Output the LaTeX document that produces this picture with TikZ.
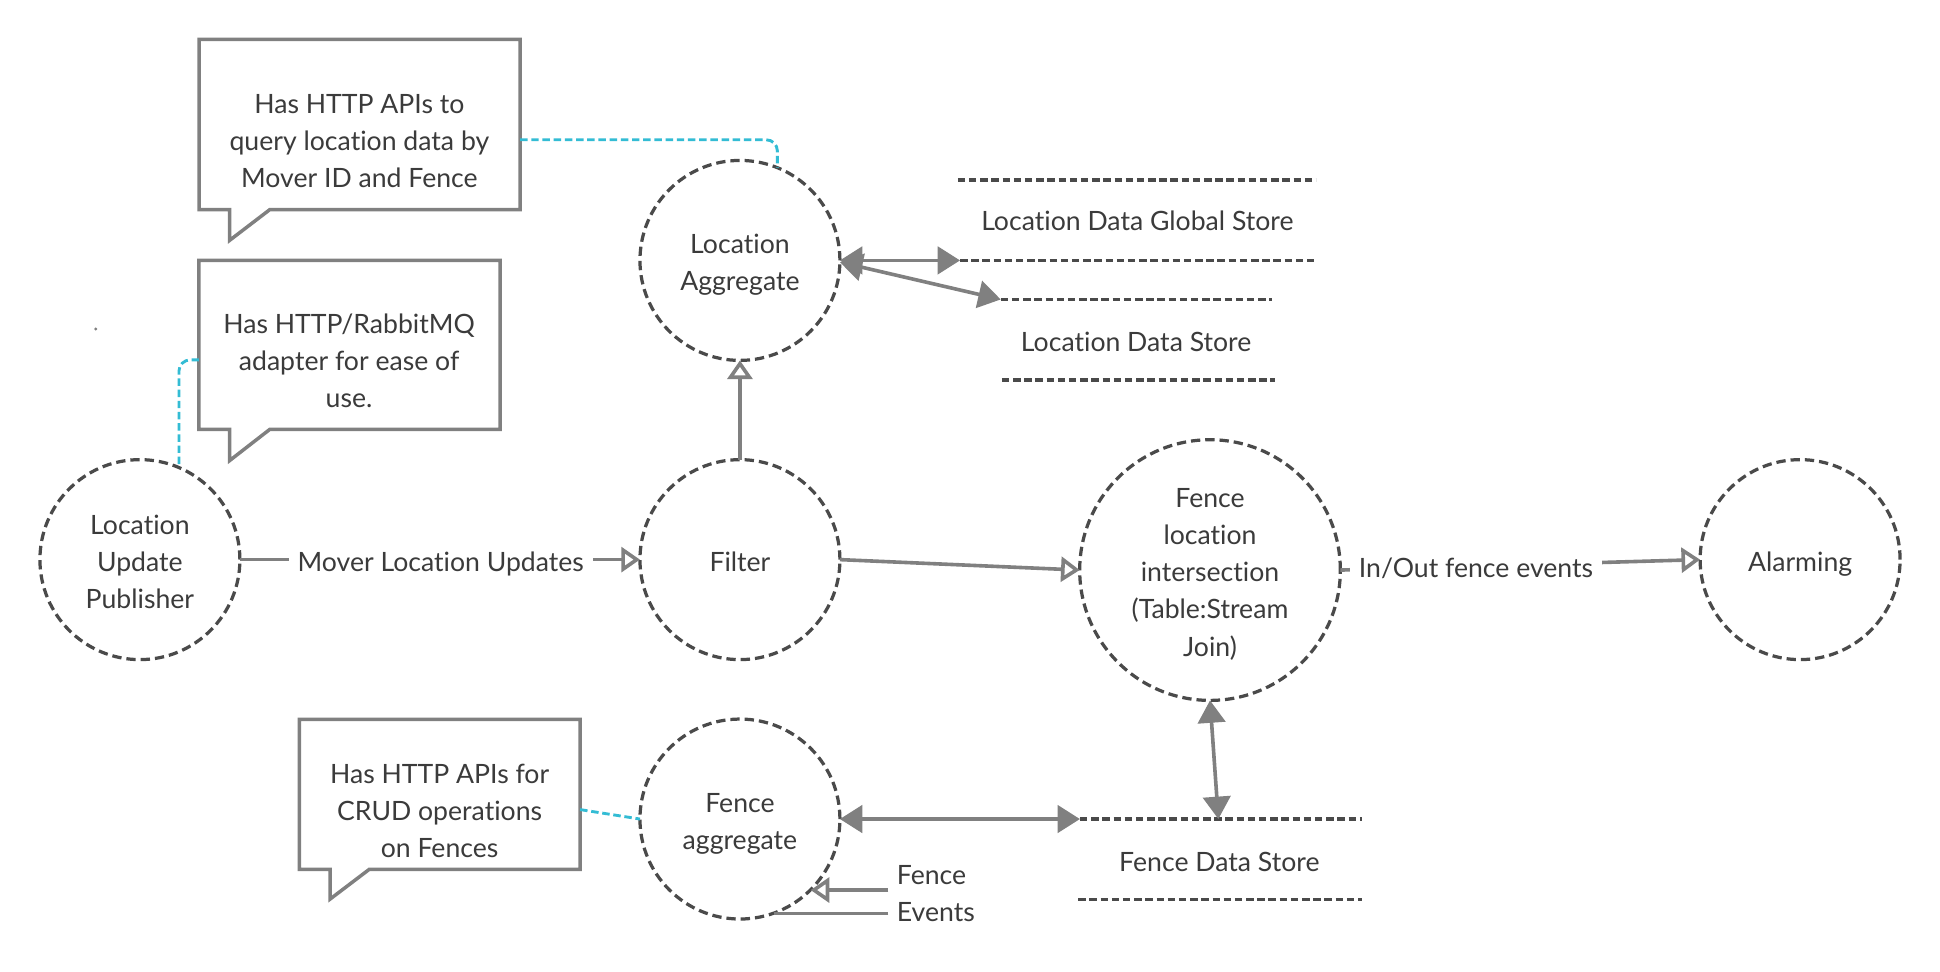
\documentclass[tikz,border=0pt]{standalone}
\usepackage{fontspec}
\setmainfont{Lato}[Ligatures=NoCommon]
\usetikzlibrary{arrows.meta,calc}
\definecolor{circdark}{HTML}{4A4A4A}
\definecolor{conngray}{HTML}{808080}
\definecolor{txt}{HTML}{3B3B3B}
\definecolor{cyanc}{HTML}{33BCD4}
\newcommand\dfs{\fontsize{21.4pt}{29.8pt}\selectfont}
\newcommand\sa{\rule{0pt}{24pt}}
\newcommand\sz{\rule[-5pt]{0pt}{5pt}}
\tikzset{
  proc/.style={circle, draw=circdark, line width=2.6pt, dash pattern=on 7.5pt off 4pt,
    minimum size=160.8pt, inner sep=0pt, outer sep=0pt, align=center, text=txt, font=\dfs},
  lbl/.style={text=txt, font=\dfs, align=center, inner sep=0pt},
  boxnode/.style={rectangle, draw=none, inner sep=0pt, outer sep=0pt},
  callout/.style={draw=conngray, line width=2.8pt, line join=miter},
  storeline/.style={draw=circdark, line width=2.8pt, dash pattern=on 6pt off 3pt},
  conn/.style={draw=conngray, line width=2.9pt},
  openarr/.style={conn, -{Triangle[open, length=15pt, width=20pt]}},
  biarr/.style={conn, {Triangle[length=18pt, width=22pt]}-{Triangle[length=18pt, width=22pt]}},
  cyanconn/.style={draw=cyanc, line width=2.3pt, dash pattern=on 6pt off 3pt, rounded corners=9pt},
  edgelbl/.style={fill=white, text=txt, font=\dfs, inner xsep=7pt, inner ysep=0pt},
}
\begin{document}
\begin{tikzpicture}[x=1pt,y=-1pt]
\useasboundingbox (0,0) rectangle (1560,781.6);
\fill[white] (0,0) rectangle (1560,781.6);

% processes
\node[proc] (LUP) at (112.5,450) {\sa Location\\Update\\Publisher\sz};
\node[proc] (LA) at (595,209.4) {\sa Location\\Aggregate\sz};
\node[proc] (Filter) at (595,450) {\sa Filter\sz};
\node[proc] (FA) at (595,658.6) {\sa Fence\\aggregate\sz};
\node[proc, minimum size=209.6pt] (FLI) at (973,458.4) {\sa Fence\\location\\intersection\\(Table:Stream\\Join)\sz};
\node[proc] (Alarm) at (1447.5,450) {\sa Alarming\sz};

% stores
\coordinate (gsTL) at (770.2,144.6); \coordinate (gsTR) at (1058.2,144.6);
\coordinate (gsBL) at (772,209.4);   \coordinate (gsBR) at (1059.6,209.4);
\coordinate (ldTL) at (804.7,240.8); \coordinate (ldTR) at (1022.8,240.8);
\coordinate (ldBL) at (805.6,305.4); \coordinate (ldBR) at (1025.5,305.4);
\coordinate (fsTL) at (868.4,658.6); \coordinate (fsTR) at (1095,658.6);
\coordinate (fsBL) at (867,723.2);   \coordinate (fsBR) at (1095,723.2);
\coordinate (fsJ) at (979.7,658.6);
\draw[storeline] (gsTL) -- (gsTR);
\draw[storeline] (gsBL) -- (gsBR);
\draw[storeline] (ldTL) -- (ldTR);
\draw[storeline] (ldBL) -- (ldBR);
\draw[storeline] (fsTL) -- (fsTR);
\draw[storeline] (fsBL) -- (fsBR);
\node[lbl] (gsT) at (914.6,176.2) {\sa Location Data Global Store\sz};
\node[lbl] (ldT) at (913.6,273.1) {\sa Location Data Store\sz};
\node[lbl] (fsT) at (980.5,691.4) {\sa Fence Data Store\sz};

% callouts
\node[boxnode, minimum width=258pt, minimum height=136.9pt] (c1box) at (289.2,100.15) {};
\node[boxnode, minimum width=242.2pt, minimum height=135.9pt] (c2box) at (281.1,277.35) {};
\node[boxnode, minimum width=225.8pt, minimum height=120.6pt] (c3box) at (353.6,638.7) {};
\draw[callout] (c1box.north west) -- (c1box.north east) -- (c1box.south east)
  -- ($(c1box.south west)+(56.7,0)$) -- ($(c1box.south west)+(24.4,24.7)$)
  -- ($(c1box.south west)+(24.4,0)$) -- (c1box.south west) -- cycle;
\draw[callout] (c2box.north west) -- (c2box.north east) -- (c2box.south east)
  -- ($(c2box.south west)+(56.9,0)$) -- ($(c2box.south west)+(24.6,25.1)$)
  -- ($(c2box.south west)+(24.6,0)$) -- (c2box.south west) -- cycle;
\draw[callout] (c3box.north west) -- (c3box.north east) -- (c3box.south east)
  -- ($(c3box.south west)+(56.3,0)$) -- ($(c3box.south west)+(24.7,24)$)
  -- ($(c3box.south west)+(24.7,0)$) -- (c3box.south west) -- cycle;
\node[lbl] (c1) at (289,111.8) {\sa Has HTTP APIs to\\query location data by\\Mover ID and Fence\sz};
\node[lbl] (c2) at (280.7,288.7) {\sa Has HTTP/RabbitMQ\\adapter for ease of\\use.\sz};
\node[lbl] (c3) at (353.5,650.5) {\sa Has HTTP APIs for\\CRUD operations\\on Fences\sz};

% cyan annotation links
\draw[cyanconn] ($(c1box.east)+(0,12.25)$) -| (LA.68);
\draw[cyanconn] ($(c2box.west)+(0,12.05)$) -| (LUP.67.8);
\draw[cyanconn] ($(c3box.east)+(0,12.3)$) -- (FA.west);

% small dot
\fill[conngray] (77,264.6) circle (1.3pt);

% connectors
\draw[openarr] (LUP.east) -- node[edgelbl, pos=0.502] (mlu) {\sa Mover Location Updates\sz} (Filter.west);
\draw[openarr] (Filter.north) -- (LA.south);
\draw[openarr] (Filter.east) -- (FLI.west);
\draw[openarr] (FLI.east) -- node[edgelbl, pos=0.377] (ioe) {\sa In/Out fence events\sz} (Alarm.west);
\draw[biarr] (LA.east) -- (gsBL);
\draw[biarr] (LA.-1.3) -- (ldTL);
\draw[biarr] (FA.east) -- (fsTL);
\draw[biarr] (FLI.south) -- (fsJ);

% fence events
\coordinate (fe1) at (714.3,715.7);
\coordinate (fe2) at (714.3,734.4);
\node[lbl, align=left, anchor=west] (fev) at (721,716.5) {\sa Fence\\Events\sz};
\draw[openarr] (fe1) -- (fe1 -| FA.-45.2);
\draw[conn] (fe2) -- (fe2 -| FA.-70.5);
\end{tikzpicture}
\end{document}
